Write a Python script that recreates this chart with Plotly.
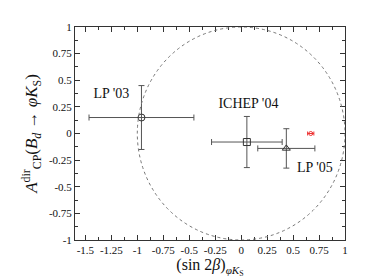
import plotly.graph_objects as go

# data
labels = ["LP '03", "ICHEP '04", "LP '05"]
sin2b = [-0.96, 0.055, 0.435]
sin2b_err = [0.505, 0.34, 0.275]
acp = [0.15, -0.08, -0.14]
acp_err = [0.30, 0.24, 0.185]
symbols = ["circle-open", "square-open", "triangle-up-open"]

sm_x = [0.67]
sm_y = [0.0]
sm_xerr = [0.03]

label_x = [-1.25, 0.07, 0.71]
label_y = [0.37, 0.27, -0.33]

xticks = [-1.5, -1.25, -1, -0.75, -0.5, -0.25, 0, 0.25, 0.5, 0.75, 1]
yticks = [-1, -0.75, -0.5, -0.25, 0, 0.25, 0.5, 0.75, 1]

serif = "Liberation Serif"
gray = "#555555"

fig = go.Figure()

fig.add_shape(type="circle", xref="x", yref="y", x0=-1, x1=1, y0=-1, y1=1,
              line=dict(color="#777777", width=1, dash="dot"))

for i in range(len(labels)):
    fig.add_trace(go.Scatter(
        x=[sin2b[i]], y=[acp[i]], mode="markers",
        marker=dict(symbol=symbols[i], size=7, color="#333333", line=dict(width=1)),
        error_x=dict(type="data", array=[sin2b_err[i]], color=gray, thickness=1, width=3),
        error_y=dict(type="data", array=[acp_err[i]], color=gray, thickness=1, width=3),
        showlegend=False))

fig.add_trace(go.Scatter(
    x=sm_x, y=sm_y, mode="markers",
    marker=dict(symbol="circle-open", size=4, color="#ee3333", line=dict(width=1)),
    error_x=dict(type="data", array=sm_xerr, color="#ee3333", thickness=1, width=2),
    showlegend=False))

fig.add_trace(go.Scatter(
    x=label_x, y=label_y, mode="text", text=labels,
    textfont=dict(family=serif, size=14, color="#111111"),
    showlegend=False))

axis_common = dict(
    showgrid=False, zeroline=False, showline=True, linecolor="#333333", linewidth=1,
    mirror="allticks", ticks="inside", ticklen=5, tickcolor="#333333",
    tickfont=dict(family=serif, size=11, color="#111111"),
    minor=dict(ticks="inside", ticklen=3, tickcolor="#333333", dtick=0.125),
)

fig.update_xaxes(range=[-1.6, 1.0], tickvals=xticks,
                 ticktext=[f"{v:g}" for v in xticks],
                 title=dict(text="(sin 2<i>β</i>)<sub><i>φK</i><sub>S</sub></sub>",
                            font=dict(family=serif, size=16, color="#111111"), standoff=0),
                 **axis_common)
fig.update_yaxes(range=[-1.0, 1.0], tickvals=yticks,
                 ticktext=[f"{v:g}" for v in yticks],
                 title=dict(text="<i>A</i><sup>dir</sup><sub>CP</sub>(<i>B<sub>d</sub></i> → <i>φK</i><sub>S</sub>)",
                            font=dict(family=serif, size=17, color="#111111"), standoff=6),
                 **axis_common)

fig.update_layout(width=371, height=278, margin=dict(l=67, r=34, t=19, b=46),
                  plot_bgcolor="white", paper_bgcolor="white")

fig.write_html("out.html")
